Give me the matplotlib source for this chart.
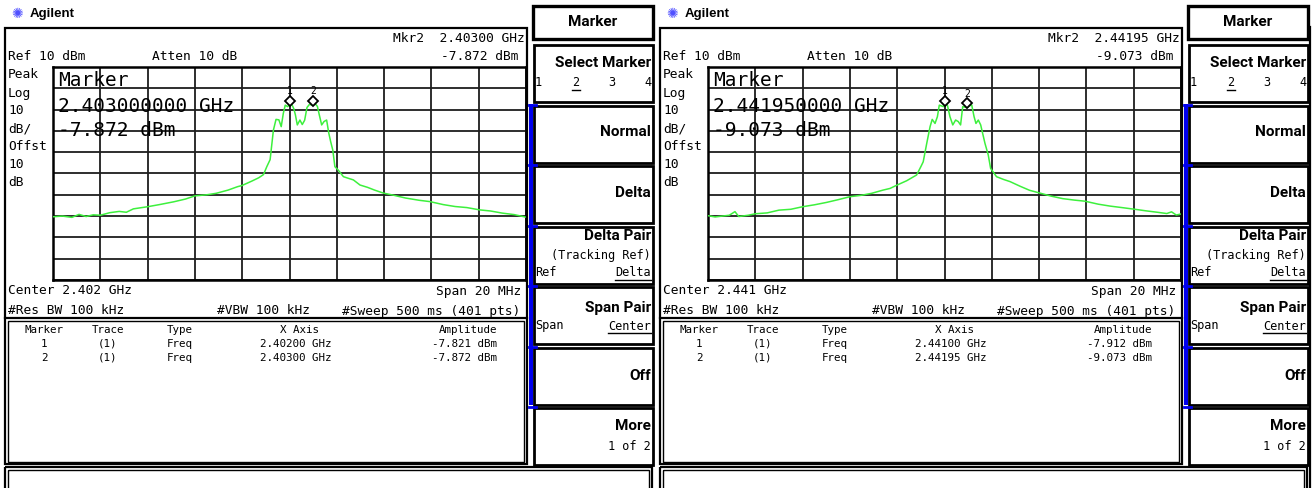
"""Two Agilent spectrum-analyser screens (marker table view) side by side."""

import matplotlib

matplotlib.use("Agg")
import matplotlib.pyplot as plt
import numpy as np
from matplotlib.patches import Rectangle
from matplotlib.transforms import offset_copy

W, H = 1315, 488
MONO = "DejaVu Sans Mono"
BOLD = "Roboto"
GREEN = "#3df03d"
BLUE = "#0000ee"

# ---- values ----
ref_level_dbm = 10
db_per_div = 10
span_mhz = 20
centers_ghz = [2.402, 2.441]
marker1_ghz = [2.40200, 2.44100]
marker2_ghz = [2.40300, 2.44195]
marker1_dbm = [-7.821, -7.912]
marker2_dbm = [-7.872, -9.073]

left_offset_mhz = [
    -10.0, -9.6, -9.2, -8.9, -8.6, -8.3, -8.0, -7.6, -7.2, -6.9, -6.6, -6.0,
    -5.5, -4.9, -4.4, -4.0, -3.5, -3.1, -2.6, -2.2, -2.0, -1.6, -1.3, -1.1,
    -0.96, -0.82, -0.68, -0.57, -0.45, -0.35, -0.26, -0.18, -0.08, 0.0, 0.09,
    0.18, 0.25, 0.33, 0.44, 0.54, 0.64, 0.74, 0.84, 0.98, 1.10, 1.18, 1.26,
    1.36, 1.46, 1.57, 1.66, 1.74, 1.83, 1.92, 2.06, 2.28, 2.5, 2.7, 2.98, 3.3,
    3.6, 3.97, 4.4, 4.9, 5.5, 5.94, 6.5, 7.0, 7.5, 8.05, 8.5, 9.0, 9.5, 10.0,
]
left_dbm = [
    -60.3, -60.0, -60.6, -59.2, -60.2, -59.4, -59.6, -58.4, -57.8, -58.2, -56.6, -55.6,
    -54.6, -53.3, -52.0, -50.5, -50.0, -49.3, -47.8, -46.2, -45.6, -43.6, -42.0, -40.5,
    -36.8, -33.5, -19.6, -14.6, -14.8, -18.0, -11.7, -7.9, -8.6, -7.8, -7.4,
    -9.5, -12.5, -17.2, -14.9, -17.0, -15.0, -9.0, -7.6, -7.9, -7.4, -8.5, -12.5,
    -17.2, -15.6, -14.9, -21.0, -25.0, -29.0, -36.8, -38.4, -41.5, -42.3, -43.0, -45.4, -46.5,
    -47.8, -49.2, -50.2, -51.5, -52.6, -53.2, -54.6, -55.5, -56.0, -57.1, -57.6, -58.6, -59.3, -60.5,
]

right_offset_mhz = [
    -10.0, -9.7, -9.4, -9.1, -8.86, -8.7, -8.3, -8.0, -7.5, -7.0, -6.5, -6.0,
    -5.5, -5.0, -4.5, -4.0, -3.5, -3.08, -2.6, -2.3, -2.0, -1.6, -1.18, -1.0,
    -0.9, -0.75, -0.61, -0.52, -0.40, -0.30, -0.22, -0.05, 0.0, 0.12, 0.23,
    0.35, 0.47, 0.58, 0.68, 0.77, 0.95, 1.05, 1.15, 1.25, 1.33, 1.43, 1.53,
    1.71, 1.85, 1.95, 2.2, 2.5, 2.77, 3.2, 3.6, 3.97, 4.5, 5.0, 5.5, 5.94,
    6.5, 7.0, 7.5, 8.05, 8.5, 9.0, 9.4, 9.6, 9.8, 10.0,
]
right_dbm = [
    -59.8, -60.4, -60.0, -59.6, -57.9, -60.2, -59.6, -58.9, -58.5, -57.2, -56.8, -55.6,
    -54.7, -53.6, -52.3, -50.9, -50.2, -49.3, -47.8, -47.0, -45.4, -43.4, -40.7, -36.8,
    -34.5, -25.8, -18.0, -14.6, -16.5, -13.3, -7.9, -8.6, -7.9, -7.8, -13.3,
    -17.2, -14.9, -15.6, -17.2, -8.6, -9.1, -8.3, -7.8, -13.3, -16.5, -14.9, -17.2,
    -25.8, -31.3, -37.6, -41.5, -42.8, -43.8, -46.0, -47.9, -49.0, -50.6, -51.8, -52.5, -53.0,
    -54.4, -55.3, -56.0, -56.8, -57.5, -58.2, -58.8, -58.0, -59.5, -59.0,
]

softkeys = ["Select Marker", "Normal", "Delta", "Delta Pair", "Span Pair", "Off", "More"]
left_labels = ["Peak", "Log", "10", "dB/", "Offst", "10", "dB"]


def rect(ov, x0, y0, x1, y1, lw=1.5, color="black", fill=False):
    ov.add_patch(Rectangle((x0, y0), x1 - x0, y1 - y0, fill=fill, lw=lw,
                           ec=color, fc=color if fill else "none", clip_on=False))


def underline(fig, ov, t, y):
    bb = t.get_window_extent(renderer=fig.canvas.get_renderer())
    ov.plot([bb.x0, bb.x1], [y, y], color="black", lw=1)


def draw_panel(fig, ov, x0, i, offsets, trace):
    center = centers_ghz[i]
    lo, hi = center - span_mhz / 2000, center + span_mhz / 2000
    bottom = ref_level_dbm - 10 * db_per_div

    ax = fig.add_axes([(x0 + 53) / W, 1 - 280 / H, 473 / W, 213 / H])
    ax.set_xlim(lo, hi)
    ax.set_ylim(bottom, ref_level_dbm)
    ax.set_xticks(np.linspace(lo, hi, 11))
    ax.set_yticks(np.linspace(bottom, ref_level_dbm, 11))
    ax.tick_params(length=0, labelbottom=False, labelleft=False)
    ax.grid(color="#1e1e1e", lw=1.3)
    for s in ax.spines.values():
        s.set_linewidth(1.8)
    freqs = center + np.asarray(offsets) / 1000
    ax.plot(freqs, trace, color=GREEN, lw=1.1, zorder=3)
    up = offset_copy(ax.transData, fig=fig, y=3, units="points")
    for n, (f, a) in enumerate([(marker1_ghz[i], marker1_dbm[i]),
                                (marker2_ghz[i], marker2_dbm[i])], start=1):
        ax.plot(f, a, "D", ms=5, mfc="white", mec="black", mew=1.3,
                transform=up, zorder=4)
        ax.annotate(str(n), (f, a), xytext=(0, 10), textcoords="offset points",
                    ha="center", va="center", fontsize=7, family=MONO)

    # logo
    ov.text(x0 + 17, 14, "\u273a", color="#5050ff", fontsize=10, ha="center",
            va="center", family="DejaVu Sans")
    ov.text(x0 + 30, 14, "Agilent", fontsize=9.5, weight="bold",
            family="Liberation Sans", va="center")

    # frames
    rect(ov, x0 + 5, 28, x0 + 527, 464, lw=1.6)
    ov.plot([x0 + 5, x0 + 527], [318, 318], color="black", lw=1.6)
    rect(ov, x0 + 8, 320.5, x0 + 524.5, 461.5, lw=1)
    rect(ov, x0 + 5, 467, x0 + 652, 500, lw=1.6)
    rect(ov, x0 + 8, 470, x0 + 649, 500, lw=1)

    m2, a2 = marker2_ghz[i], marker2_dbm[i]
    kw = dict(family=MONO, fontsize=9.3, va="center")
    ov.text(x0 + 8, 57, f"Ref {ref_level_dbm} dBm", **kw)
    ov.text(x0 + 152, 57, "Atten 10 dB", **kw)
    ov.text(x0 + 525, 38, f"Mkr2  {m2:.5f} GHz", ha="right", **kw)
    ov.text(x0 + 519, 57, f"{a2:.3f} dBm", ha="right", **kw)
    for k, lab in enumerate(left_labels):
        ov.text(x0 + 8, 75 + k * 18, lab, **kw)
    big = dict(family=MONO, fontsize=14, va="center")
    ov.text(x0 + 58, 80, "Marker", **big)
    ov.text(x0 + 58, 106, f"{m2:.9f} GHz", **big)
    ov.text(x0 + 58, 131, f"{a2:.3f} dBm", **big)
    ov.text(x0 + 8, 291, f"Center {center:.3f} GHz", **kw)
    ov.text(x0 + 521, 291, f"Span {span_mhz} MHz", ha="right", **kw)
    ov.text(x0 + 8, 311, "#Res BW 100 kHz", **kw)
    ov.text(x0 + 217, 311, "#VBW 100 kHz", **kw)
    ov.text(x0 + 520, 311, "#Sweep 500 ms (401 pts)", ha="right", **kw)

    # marker table
    tk = dict(family=MONO, fontsize=7.8, va="center")
    ov.text(x0 + 44, 330, "Marker", ha="center", **tk)
    ov.text(x0 + 108, 330, "Trace", ha="center", **tk)
    ov.text(x0 + 167, 330, "Type", **tk)
    ov.text(x0 + 300, 330, "X Axis", ha="center", **tk)
    ov.text(x0 + 497, 330, "Amplitude", ha="right", **tk)
    rows = [(marker1_ghz[i], marker1_dbm[i]), (marker2_ghz[i], marker2_dbm[i])]
    for n, (f, a) in enumerate(rows):
        y = 344 + 14 * n
        ov.text(x0 + 44, y, str(n + 1), ha="center", **tk)
        ov.text(x0 + 108, y, "(1)", ha="center", **tk)
        ov.text(x0 + 167, y, "Freq", **tk)
        ov.text(x0 + 332, y, f"{f:.5f} GHz", ha="right", **tk)
        ov.text(x0 + 497, y, f"{a:.3f} dBm", ha="right", **tk)

    # softkey column
    sx0, sx1 = x0 + 534, x0 + 653
    rect(ov, x0 + 533, 6, sx1, 39, lw=2.4)
    ov.text((x0 + 533 + sx1) / 2, 22, "Marker", family=BOLD, weight="bold",
            fontsize=11, ha="center", va="center")
    tops = [45 + 60.5 * k for k in range(len(softkeys))]
    for t in tops:
        rect(ov, sx0, t, sx1, t + 57, lw=2)
    ov.add_patch(Rectangle((x0 + 529.5, tops[1] - 2), 3.5, tops[5] + 59 - tops[1],
                           color=BLUE, lw=0))
    for t in tops[1:7]:
        ov.plot([x0 + 529.5, x0 + 536], [t - 1, t - 1], color=BLUE, lw=2)
    sk = dict(family=BOLD, weight="bold", fontsize=11, ha="right", va="center")
    sm = dict(family=MONO, fontsize=8.6, va="center")
    rx = sx1 - 2
    ov.text(rx, tops[0] + 18, softkeys[0], **sk)
    for k, xx in enumerate([538, 576, 612, 648]):
        t = ov.text(x0 + xx, tops[0] + 38, str(k + 1), ha="center", **sm)
        if k == 1:
            underline(fig, ov, t, tops[0] + 45)
    ov.text(rx, tops[1] + 27, softkeys[1], **sk)
    ov.text(rx, tops[2] + 27, softkeys[2], **sk)
    ov.text(rx, tops[3] + 10, softkeys[3], **sk)
    ov.text(rx, tops[3] + 29, "(Tracking Ref)", ha="right", **sm)
    ov.text(sx0 + 1, tops[3] + 46, "Ref", **sm)
    t = ov.text(rx, tops[3] + 46, "Delta", ha="right", **sm)
    underline(fig, ov, t, tops[3] + 53)
    ov.text(rx, tops[4] + 21, softkeys[4], **sk)
    ov.text(sx0 + 1, tops[4] + 39, "Span", **sm)
    t = ov.text(rx, tops[4] + 39, "Center", ha="right", **sm)
    underline(fig, ov, t, tops[4] + 46)
    ov.text(rx, tops[5] + 28, softkeys[5], **sk)
    ov.text(rx, tops[6] + 18, softkeys[6], **sk)
    ov.text(rx, tops[6] + 38, "1 of 2", ha="right", **sm)


def main() -> None:
    fig = plt.figure(figsize=(W / 100, H / 100), dpi=100)
    ov = fig.add_axes([0, 0, 1, 1], zorder=5)
    ov.set_xlim(0, W)
    ov.set_ylim(H, 0)
    ov.axis("off")
    ov.patch.set_visible(False)

    draw_panel(fig, ov, 0, 0, left_offset_mhz, left_dbm)
    draw_panel(fig, ov, 655, 1, right_offset_mhz, right_dbm)
    ov.plot([1310, 1310], [27, H], color="black", lw=1.6)

    fig.savefig("out.png", dpi=100)


if __name__ == "__main__":
    main()
